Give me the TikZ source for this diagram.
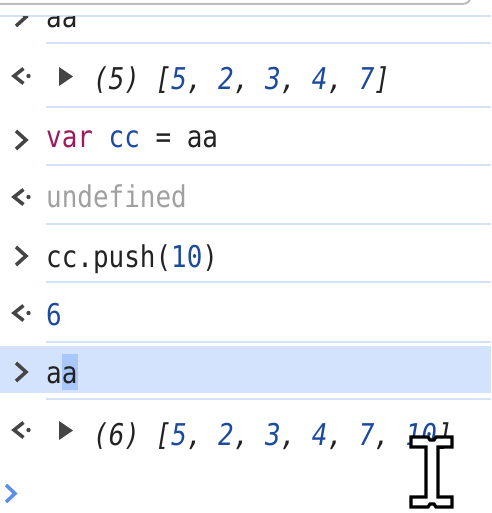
\documentclass[tikz,border=0pt]{standalone}
\usepackage{fontspec}
\newfontfamily\consolefont[FakeStretch=0.865]{DejaVu Sans Mono}
\definecolor{inktext}{HTML}{222222}
\definecolor{kwred}{HTML}{9C1A5E}
\definecolor{numblue}{HTML}{1C4A9C}
\definecolor{undefgray}{HTML}{A0A0A0}
\definecolor{sepblue}{HTML}{D4E2F8}
\definecolor{rowhl}{HTML}{D3E3FD}
\definecolor{selhl}{HTML}{A8C7FA}
\definecolor{chevgray}{HTML}{454545}
\definecolor{promptblue}{HTML}{5B8FE8}
\definecolor{framegray}{HTML}{BDBDBD}
\newcommand{\numv}[1]{\textcolor{numblue}{#1}}

\begin{document}
\begin{tikzpicture}[x=1pt,y=-1pt,
  console/.style={anchor=base west,inner sep=0pt,text=inktext,
    font=\consolefont\fontsize{30}{30}\selectfont},
  result/.style={console,font=\consolefont\itshape\fontsize{30}{30}\selectfont},
  sepline/.style={draw=sepblue,line width=2pt},
  chev/.style={draw=chevgray,line width=3.5pt,line join=miter},
  backchev/.style={draw=chevgray,line width=3.5pt,line join=miter}]

  \useasboundingbox (0,0) rectangle (491,513);

  % frame of the input box above
  \draw[framegray,line width=2pt] (0,4) -- (462,4) .. controls (468,4) and (470,1) .. (471,-4);

  % selected row
  \fill[rowhl] (0,346) rectangle (491,393);
  \fill[selhl] (62,354) rectangle (78,390);

  % row lines
  \draw[sepline] (0,16) -- (491,16);
  \draw[sepline] (46,43) -- (491,43);
  \draw[sepline] (46,107) -- (491,107);
  \draw[sepline] (46,165) -- (491,165);
  \draw[sepline] (46,224) -- (491,224);
  \draw[sepline] (46,282) -- (491,282);
  \draw[sepline] (46,342) -- (491,342);
  \draw[sepline] (46,399) -- (491,399);

  % scrolled off row
  \begin{scope}
    \clip (0,17) rectangle (491,60);
    \node[console] (prevcmd) at (46,28) {aa};
    \draw[chev] (16,8) -- (26,17) -- (16,26);
  \end{scope}

  \node[result] (arrfive) at (93,90)
    {(5) [\numv{5}, \numv{2}, \numv{3}, \numv{4}, \numv{7}]};
  \node[console] (varcmd) at (46,148)
    {\textcolor{kwred}{var} \numv{cc} = aa};
  \node[console,text=undefgray] (undef) at (46,207) {undefined};
  \node[console] (pushcmd) at (46,267) {cc.push(\numv{10})};
  \node[console,text=numblue] (lenres) at (46,325) {6};
  \node[console] (aacmd) at (46,383) {aa};
  \node[result] (arrsix) at (93,445)
    {(6) [\numv{5}, \numv{2}, \numv{3}, \numv{4}, \numv{7}, \numv{10}]};

  % prompts
  \draw[backchev] (23.5,68.5) -- (14,76) -- (23.5,83.5);
  \fill[chevgray] (28.5,76) circle[radius=2.2];
  \fill[chevgray] (59,67) -- (73,76.5) -- (59,86) -- cycle;
  \draw[chev] (16,131) -- (26,140) -- (16,149);
  \draw[backchev] (23.5,189.5) -- (14,197) -- (23.5,204.5);
  \fill[chevgray] (28.5,197) circle[radius=2.2];
  \draw[chev] (16,247) -- (26,256) -- (16,265);
  \draw[backchev] (23.5,305.5) -- (14,313) -- (23.5,320.5);
  \fill[chevgray] (28.5,313) circle[radius=2.2];
  \draw[chev] (16,363) -- (26,372) -- (16,381);
  \draw[backchev] (23.5,422.5) -- (14,430) -- (23.5,437.5);
  \fill[chevgray] (28.5,430) circle[radius=2.2];
  \fill[chevgray] (59,421) -- (73,430.5) -- (59,440) -- cycle;
  \draw[promptblue,line width=3.5pt,line join=miter] (6,485) -- (15,493.5) -- (6,502);

  % text cursor
  \draw[black,line width=3.2pt,fill=white,line join=miter]
    (411,437) -- (428,437) -- (430,440) -- (434,440) -- (436,437) -- (452,437)
    -- (452,447) -- (438,447) -- (438,497) -- (452,497) -- (452,507)
    -- (436,507) -- (434,504) -- (430,504) -- (428,507) -- (411,507)
    -- (411,497) -- (426,497) -- (426,447) -- (411,447) -- cycle;
\end{tikzpicture}
\end{document}
